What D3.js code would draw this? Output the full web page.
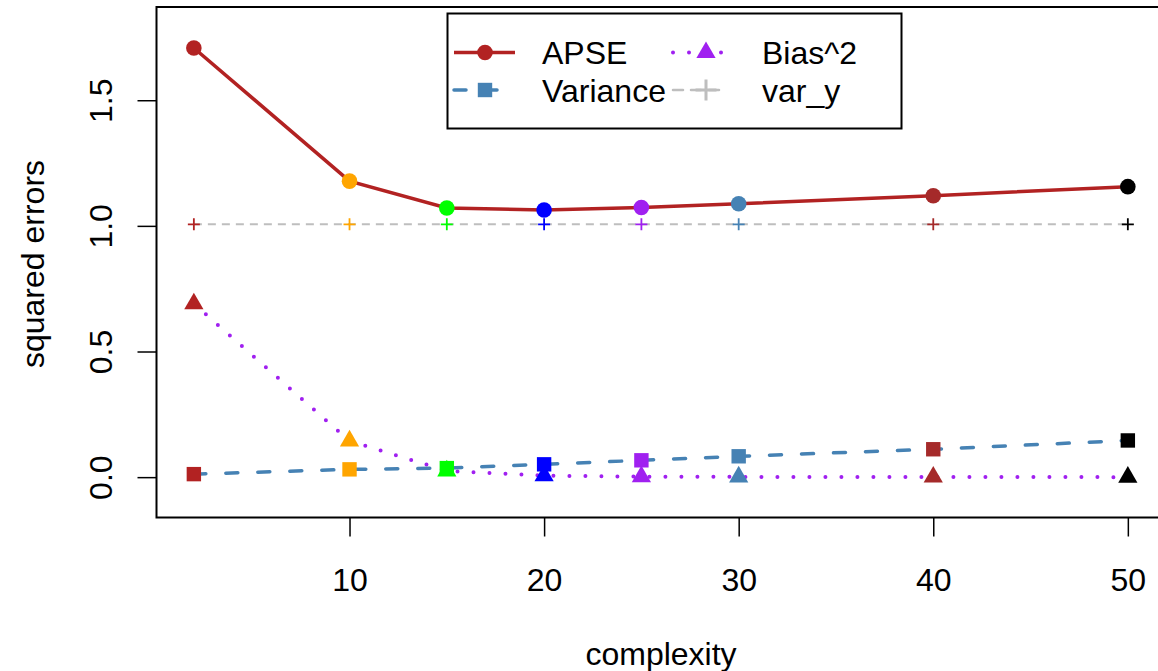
<!DOCTYPE html>
<html>
<head>
<meta charset="utf-8">
<script src="https://cdn.jsdelivr.net/npm/d3@7"></script>
<style>
  body { margin: 0; background: #fff; }
  svg { display: block; font-family: "Liberation Sans", Arial, sans-serif; }
</style>
</head>
<body>
<div id="app"></div>
<script>
// model complexity on the x axis
const complexity = [2, 10, 15, 20, 25, 30, 40, 50];
// series
const apse     = [1.708, 1.178, 1.071, 1.063, 1.073, 1.088, 1.120, 1.156];
const variance = [0.012, 0.031, 0.036, 0.051, 0.067, 0.083, 0.111, 0.146];
const bias2    = [0.690, 0.144, 0.025, 0.006, 0.002, 0.001, 0.0005, 0.0];
const varY     = [1.006, 1.006, 1.006, 1.006, 1.006, 1.006, 1.006, 1.006];
// one colour per complexity level (R colour names)
const pointColours = ["#b22222", "#ffa500", "#00ff00", "#0000ff", "#a020f0", "#4682b4", "#a52a2a", "#000000"];
const xTicks = [10, 20, 30, 40, 50];
const yTicks = [0, 0.5, 1, 1.5];

const full = { width: 1158, height: 671 };
const box = { left: 156.5, top: 7, bottom: 517.5 };

const svg = d3.select("#app").append("svg")
  .attr("width", full.width)
  .attr("height", full.height);

const x = d3.scaleLinear().domain([0.08, 51.92]).range([box.left, box.left + 51.84 * 19.458]);
const y = d3.scaleLinear().domain([-0.1606, 1.871]).range([box.bottom, box.top]);

const fontSize = 32;
const purple = "#a020f0";

// axes
const gx = svg.append("g")
  .attr("transform", `translate(0,${box.bottom})`)
  .call(d3.axisBottom(x).tickValues(xTicks).tickSize(19).tickSizeOuter(0));
gx.select(".domain").remove();
gx.selectAll("line").attr("stroke", "#000").attr("stroke-width", 1.5);
gx.selectAll("text").attr("y", 73).attr("dy", 0).attr("font-size", fontSize).attr("fill", "#000")
  .attr("font-family", "Liberation Sans, Arial, sans-serif");

const gy = svg.append("g")
  .attr("transform", `translate(${box.left},0)`)
  .call(d3.axisLeft(y).tickValues(yTicks).tickFormat(d3.format(".1f")).tickSize(19).tickSizeOuter(0));
gy.select(".domain").remove();
gy.selectAll("line").attr("stroke", "#000").attr("stroke-width", 1.5);
gy.selectAll("text")
  .attr("x", 0).attr("dy", 0).attr("y", 0)
  .attr("text-anchor", "middle")
  .attr("font-size", fontSize).attr("fill", "#000")
  .attr("font-family", "Liberation Sans, Arial, sans-serif")
  .attr("transform", "translate(-56,0) rotate(-90) translate(0,11.5)");

// plot box (right edge runs off the page)
svg.append("rect")
  .attr("x", box.left).attr("y", box.top)
  .attr("width", x(51.92) - box.left).attr("height", box.bottom - box.top)
  .attr("fill", "none").attr("stroke", "#000").attr("stroke-width", 2);

// axis titles
svg.append("text")
  .attr("x", 661).attr("y", 665)
  .attr("text-anchor", "middle").attr("font-size", fontSize)
  .text("complexity");
svg.append("text")
  .attr("transform", "translate(44,264) rotate(-90)")
  .attr("text-anchor", "middle").attr("font-size", fontSize)
  .text("squared errors");

const line = vals => d3.line().x((d, i) => x(complexity[i])).y(d => y(d))(vals);

// marker shapes
const tri = u => `M0,${-1.555 * u}L${1.347 * u},${0.778 * u}L${-1.347 * u},${0.778 * u}Z`;
const plus = h => `M${-h},0H${h}M0,${-h}V${h}`;

const plot = svg.append("g");

plot.append("path").attr("d", line(varY))
  .attr("fill", "none").attr("stroke", "#bebebe").attr("stroke-width", 2)
  .attr("stroke-dasharray", "8,6");
plot.append("path").attr("d", line(apse))
  .attr("fill", "none").attr("stroke", "#b22222").attr("stroke-width", 3.5);
plot.append("path").attr("d", line(bias2))
  .attr("fill", "none").attr("stroke", purple).attr("stroke-width", 4)
  .attr("stroke-linecap", "round").attr("stroke-dasharray", "0,16");
plot.append("path").attr("d", line(variance))
  .attr("fill", "none").attr("stroke", "#4682b4").attr("stroke-width", 3.5)
  .attr("stroke-linecap", "round").attr("stroke-dasharray", "12,20");

plot.selectAll(".vy").data(varY).join("path")
  .attr("class", "vy")
  .attr("transform", (d, i) => `translate(${x(complexity[i])},${y(d)})`)
  .attr("d", plus(6)).attr("stroke", (d, i) => pointColours[i]).attr("stroke-width", 1.8);

plot.selectAll(".ap").data(apse).join("circle")
  .attr("class", "ap")
  .attr("cx", (d, i) => x(complexity[i])).attr("cy", d => y(d)).attr("r", 7.8)
  .attr("fill", (d, i) => pointColours[i]);

plot.selectAll(".bi").data(bias2).join("path")
  .attr("class", "bi")
  .attr("transform", (d, i) => `translate(${x(complexity[i])},${y(d)})`)
  .attr("d", tri(7.14)).attr("fill", (d, i) => pointColours[i]);

plot.selectAll(".va").data(variance).join("rect")
  .attr("class", "va")
  .attr("x", (d, i) => x(complexity[i]) - 7.2).attr("y", d => y(d) - 7.2)
  .attr("width", 14.4).attr("height", 14.4)
  .attr("fill", (d, i) => pointColours[i]);

// legend
const legendItems = [
  { label: "APSE", colour: "#b22222", shape: "circle", dash: null, col: 0, row: 0 },
  { label: "Variance", colour: "#4682b4", shape: "square", dash: "12,19", col: 0, row: 1 },
  { label: "Bias^2", colour: purple, shape: "triangle", dash: "0,16", col: 1, row: 0 },
  { label: "var_y", colour: "#bebebe", shape: "plus", dash: "10,8", col: 1, row: 1 }
];
const legend = svg.append("g");
legend.append("rect")
  .attr("x", 447.5).attr("y", 13.5).attr("width", 454).attr("height", 115)
  .attr("fill", "#fff").attr("stroke", "#000").attr("stroke-width", 2);

const colX = [454, 673];
const rowY = [52.5, 90];
legendItems.forEach(it => {
  const g = legend.append("g")
    .attr("transform", `translate(${colX[it.col]},${rowY[it.row]})`);
  const ln = g.append("line").attr("x1", 0).attr("x2", it.col === 0 ? 61 : 50)
    .attr("stroke", it.colour)
    .attr("stroke-width", it.shape === "plus" ? 2.5 : (it.shape === "triangle" ? 4 : 3.5))
    .attr("stroke-linecap", it.dash ? "round" : "butt");
  if (it.dash) ln.attr("stroke-dasharray", it.dash);
  const cx = it.col === 0 ? 31 : 33;
  if (it.shape === "circle") g.append("circle").attr("cx", cx).attr("r", 7.8).attr("fill", it.colour);
  if (it.shape === "square") g.append("rect").attr("x", cx - 7.2).attr("y", -7.2).attr("width", 14.4).attr("height", 14.4).attr("fill", it.colour);
  if (it.shape === "triangle") g.append("path").attr("transform", `translate(${cx},0)`).attr("d", tri(7.14)).attr("fill", it.colour);
  if (it.shape === "plus") g.append("path").attr("transform", `translate(${cx},0)`).attr("d", plus(10.5)).attr("stroke", it.colour).attr("stroke-width", 3);
  g.append("text")
    .attr("x", it.col === 0 ? 88 : 89).attr("y", 0).attr("dy", "0.36em")
    .attr("font-size", fontSize).text(it.label);
});
</script>
</body>
</html>
